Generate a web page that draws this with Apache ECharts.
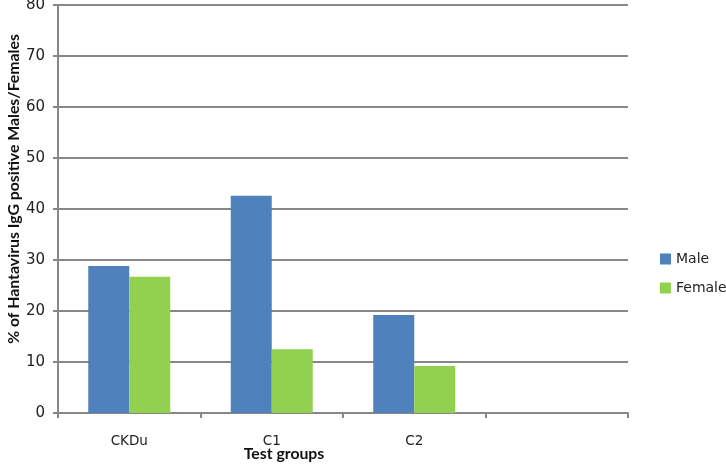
<!DOCTYPE html>
<html>
<head>
<meta charset="utf-8">
<script src="https://cdn.jsdelivr.net/npm/echarts@6/dist/echarts.min.js"></script>
<style>
  html, body { margin: 0; padding: 0; background: #fff; }
  #chart { width: 726px; height: 465px; }
</style>
</head>
<body>
<div id="chart"></div>
<script>
const categories = ['CKDu', 'C1', 'C2', '']
const maleValues = [28.8, 42.6, 19.2, null]
const femaleValues = [26.7, 12.5, 9.2, null]
const yTicks = { min: 0, max: 80, interval: 10 }

const chart = echarts.init(document.getElementById('chart'))

const axisGray = '#878787'
const labelFont = 'DejaVu Sans, Verdana, sans-serif'
const titleFont = 'Lato, sans-serif'

chart.setOption({
  animation: false,
  backgroundColor: '#fff',
  grid: { left: 58, right: 98, top: 5, bottom: 52, outerBoundsMode: 'none', containLabel: false },
  legend: {
    orient: 'vertical',
    left: 655,
    top: 247,
    itemWidth: 11,
    itemHeight: 11,
    itemGap: 15,
    icon: 'rect',
    textStyle: { fontFamily: labelFont, fontSize: 14, color: '#222' },
    data: ['Male', 'Female']
  },
  xAxis: {
    type: 'category',
    data: categories,
    name: 'Test groups',
    nameLocation: 'middle',
    nameGap: 33,
    nameMoveOverlap: false,
    nameTextStyle: {
      fontFamily: titleFont, fontSize: 15.8, fontWeight: 'bold', color: '#111',
      padding: [0, 118, 0, 0]
    },
    axisLine: { lineStyle: { color: axisGray, width: 2 } },
    axisTick: { show: true, length: 5, lineStyle: { color: axisGray, width: 2 } },
    axisLabel: { fontFamily: labelFont, fontSize: 13.5, color: '#222', margin: 21 }
  },
  yAxis: {
    type: 'value',
    min: yTicks.min,
    max: yTicks.max,
    interval: yTicks.interval,
    name: '% of Hantavirus IgG positive Males/Females',
    nameLocation: 'middle',
    nameGap: 36,
    nameMoveOverlap: false,
    nameTextStyle: {
      fontFamily: titleFont, fontSize: 15.8, fontWeight: 'bold', color: '#111',
      padding: [0, 0, 0, 40]
    },
    axisLine: { show: true, lineStyle: { color: axisGray, width: 2 } },
    axisTick: { show: true, length: 5, lineStyle: { color: axisGray, width: 2 } },
    axisLabel: { fontFamily: labelFont, fontSize: 15, color: '#222', margin: 13 },
    splitLine: { lineStyle: { color: axisGray, width: 2 } }
  },
  series: [
    {
      name: 'Male',
      type: 'bar',
      data: maleValues,
      barWidth: 41,
      barGap: '0%',
      itemStyle: { color: '#4F81BD' }
    },
    {
      name: 'Female',
      type: 'bar',
      data: femaleValues,
      barWidth: 41,
      itemStyle: { color: '#92D050' }
    }
  ]
})
</script>
</body>
</html>
